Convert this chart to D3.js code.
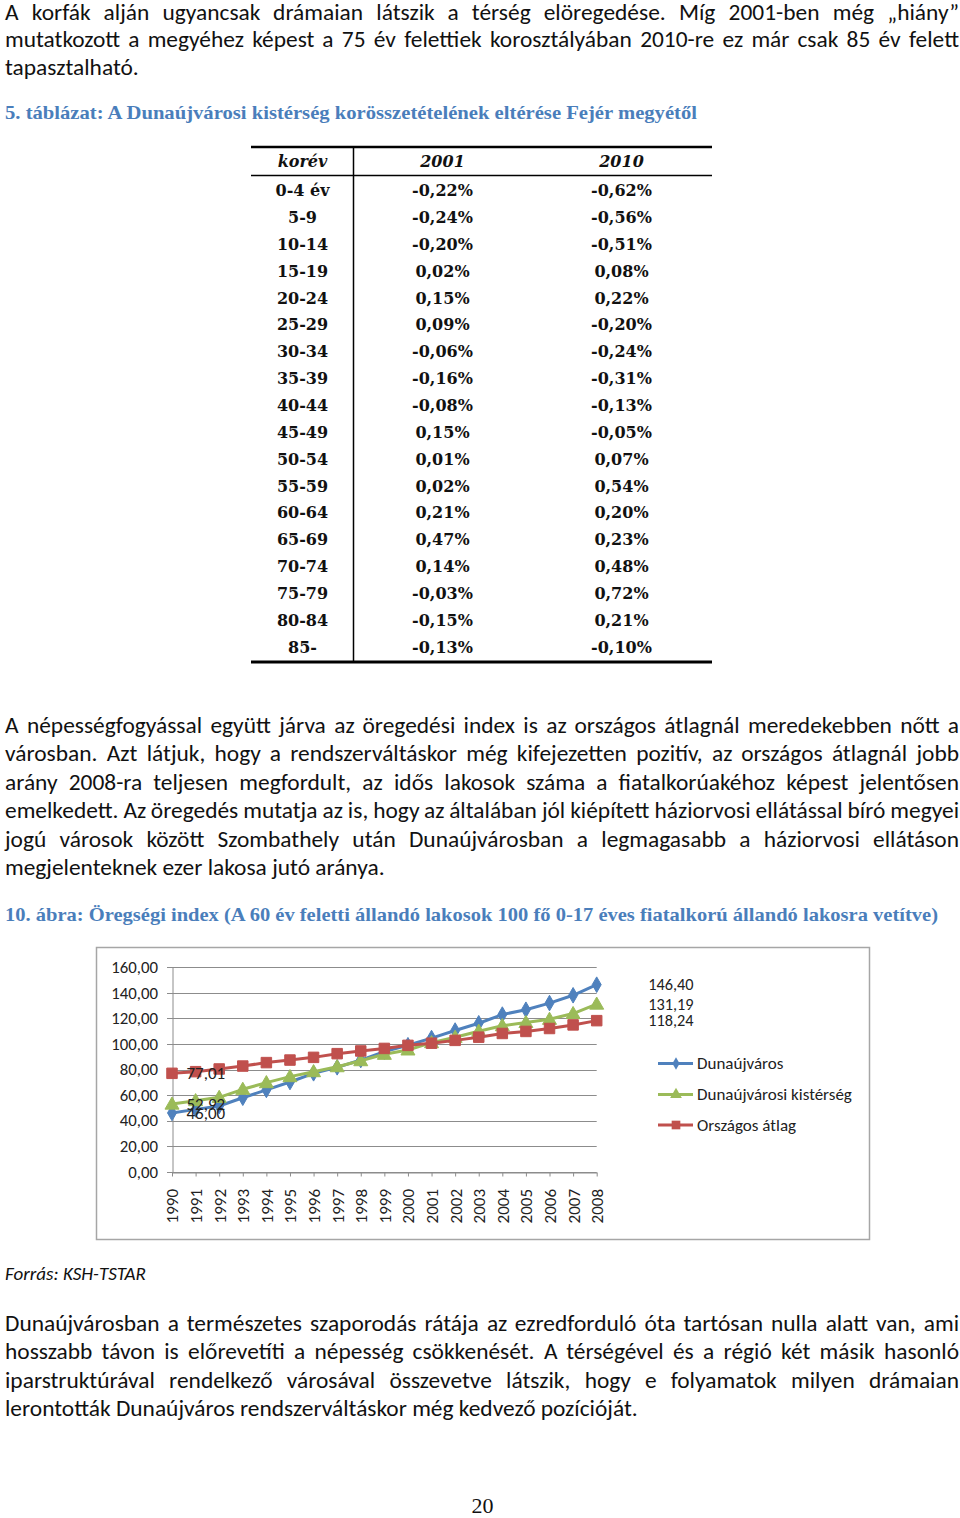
<!DOCTYPE html>
<html><head><meta charset="utf-8">
<script src="https://cdn.jsdelivr.net/npm/d3@7"></script>
<style>
html,body{margin:0;padding:0;background:#fff;}
svg{display:block;}
</style></head><body>
<svg id="page" width="960" height="1518"></svg>
<script>
// ---------- DATA ----------
const years = [1990,1991,1992,1993,1994,1995,1996,1997,1998,1999,2000,2001,2002,2003,2004,2005,2006,2007,2008];
const dunaujvaros = [46.00,48.8,51.4,57.9,64.0,70.2,77.0,81.7,87.4,94.0,99.0,104.6,110.5,116.2,123.0,126.8,132.0,138.1,146.40];
const kisterseg   = [52.92,55.6,58.2,64.5,69.7,74.4,78.3,82.2,86.9,91.9,95.3,101.0,105.2,110.0,114.3,116.8,119.3,123.8,131.19];
const orszagos    = [77.01,78.3,80.4,82.7,85.4,87.4,89.5,92.4,94.5,96.5,98.9,100.6,102.8,105.3,108.2,109.8,112.1,114.9,118.24];
const seriesNames = ["Dunaújváros","Dunaújvárosi kistérség","Országos átlag"];
const yTicks = [0,20,40,60,80,100,120,140,160];

const tableAges = ["0-4 év","5-9","10-14","15-19","20-24","25-29","30-34","35-39","40-44","45-49","50-54","55-59","60-64","65-69","70-74","75-79","80-84","85-"];
const table2001 = ["-0,22%","-0,24%","-0,20%","0,02%","0,15%","0,09%","-0,06%","-0,16%","-0,08%","0,15%","0,01%","0,02%","0,21%","0,47%","0,14%","-0,03%","-0,15%","-0,13%"];
const table2010 = ["-0,62%","-0,56%","-0,51%","0,08%","0,22%","-0,20%","-0,24%","-0,31%","-0,13%","-0,05%","0,07%","0,54%","0,20%","0,23%","0,48%","0,72%","0,21%","-0,10%"];
const tableHeader = ["korév","2001","2010"];

const para1 = [
 "A korfák alján ugyancsak drámaian látszik a térség elöregedése. Míg 2001-ben még „hiány”",
 "mutatkozott a megyéhez képest a 75 év felettiek korosztályában 2010-re ez már csak 85 év felett",
 "tapasztalható."];
const caption1 = "5. táblázat: A Dunaújvárosi kistérség korösszetételének eltérése Fejér megyétől";
const para2 = [
 "A népességfogyással együtt járva az öregedési index is az országos átlagnál meredekebben nőtt a",
 "városban. Azt látjuk, hogy a rendszerváltáskor még kifejezetten pozitív, az országos átlagnál jobb",
 "arány 2008-ra teljesen megfordult, az idős lakosok száma a fiatalkorúakéhoz képest jelentősen",
 "emelkedett. Az öregedés mutatja az is, hogy az általában jól kiépített háziorvosi ellátással bíró megyei",
 "jogú városok között Szombathely után Dunaújvárosban a legmagasabb a háziorvosi ellátáson",
 "megjelenteknek ezer lakosa jutó aránya."];
const caption2 = "10. ábra: Öregségi index (A 60 év feletti állandó lakosok 100 fő 0-17 éves fiatalkorú állandó lakosra vetítve)";
const source = "Forrás: KSH-TSTAR";
const para3 = [
 "Dunaújvárosban a természetes szaporodás rátája az ezredforduló óta tartósan nulla alatt van, ami",
 "hosszabb távon is előrevetíti a népesség csökkenését. A térségével és a régió két másik hasonló",
 "iparstruktúrával rendelkező városával összevetve látszik, hogy e folyamatok milyen drámaian",
 "lerontották Dunaújváros rendszerváltáskor még kedvező pozícióját."];
const pageNumber = "20";

// ---------- HELPERS ----------
const svg = d3.select("#page");
const BODY_FONT = "Carlito, Lato, 'Open Sans', sans-serif";
const ctx = document.createElement("canvas").getContext("2d");
function fitSize(text, family, target, style) {
  ctx.font = (style||"") + " 100px " + family;
  return 100 * target / ctx.measureText(text).width;
}
const bodySize = fitSize(para3[3], BODY_FONT, 633);

function textLine(text, x0, x1, y, justify, size) {
  const t = svg.append("text").attr("y", y)
    .style("font-family", BODY_FONT).style("font-size", size + "px").attr("fill", "#111");
  if (!justify) { t.attr("x", x0).text(text); return; }
  const words = text.split(" ");
  const spans = words.map(w => t.append("tspan").text(w));
  const widths = spans.map(s => s.node().getComputedTextLength());
  const total = d3.sum(widths);
  let gap = (x1 - x0 - total) / (words.length - 1);
  if (gap < 2) {
    t.selectAll("tspan").remove();
    t.attr("x", x0).text(text).attr("textLength", x1 - x0).attr("lengthAdjust", "spacingAndGlyphs");
    return;
  }
  let x = x0;
  spans.forEach((s, i) => { s.attr("x", x); x += widths[i] + gap; });
}
function paragraphAt(lines, ys) {
  lines.forEach((l, i) => textLine(l, 5, 959, ys[i], i < lines.length - 1, bodySize));
}
function caption(text, x0, x1, y) {
  svg.append("text").attr("x", x0).attr("y", y)
    .attr("textLength", x1 - x0).attr("lengthAdjust", "spacingAndGlyphs")
    .style("font-family", "'Liberation Serif', 'DejaVu Serif', serif")
    .style("font-weight", "bold").style("font-size", "19.5px")
    .attr("fill", "#4a7ebb").text(text);
}

// ---------- TEXT ----------
paragraphAt(para1, [20, 47, 75.3]);
caption(caption1, 5, 697, 119);
paragraphAt(para2, d3.range(6).map(i => 733 + i * 28.4));
caption(caption2, 5, 938, 921);
const srcSize = fitSize(source, BODY_FONT, 141, "italic");
svg.append("text").attr("x", 5).attr("y", 1280).style("font-family", BODY_FONT)
  .style("font-style", "italic").style("font-size", srcSize + "px").attr("fill", "#111").text(source);
paragraphAt(para3, d3.range(4).map(i => 1331 + i * 28.4));
svg.append("text").attr("x", 482.5).attr("y", 1513).attr("text-anchor", "middle")
  .style("font-family", "'Liberation Serif', serif").style("font-size", "22px").attr("fill", "#111").text(pageNumber);

// ---------- TABLE ----------
const tbl = svg.append("g");
const rowY = d3.scalePoint().domain(tableAges).range([190.3, 646.8]);
const colX = [302.5, 442.5, 621.5];
const TFONT = "'DejaVu Serif', serif";
tbl.append("line").attr("x1", 251).attr("x2", 712).attr("y1", 147).attr("y2", 147).attr("stroke", "#000").attr("stroke-width", 2.5);
tbl.append("line").attr("x1", 251).attr("x2", 712).attr("y1", 175.5).attr("y2", 175.5).attr("stroke", "#000").attr("stroke-width", 1.5);
tbl.append("line").attr("x1", 251).attr("x2", 712).attr("y1", 662).attr("y2", 662).attr("stroke", "#000").attr("stroke-width", 3);
tbl.append("line").attr("x1", 353.5).attr("x2", 353.5).attr("y1", 146).attr("y2", 662).attr("stroke", "#000").attr("stroke-width", 1.5);
tableHeader.forEach((h, i) => {
  tbl.append("text").attr("x", colX[i]).attr("y", 166.5).attr("text-anchor", "middle")
    .style("font-family", TFONT).style("font-weight", "bold").style("font-style", "italic")
    .style("font-size", "16px").attr("fill", "#111").text(h);
});
const cols = [tableAges, table2001, table2010];
cols.forEach((col, ci) => {
  tbl.selectAll(null).data(col).enter().append("text")
    .attr("x", colX[ci]).attr("y", (d, i) => rowY(tableAges[i]) + 5.9)
    .attr("text-anchor", "middle")
    .style("font-family", TFONT).style("font-weight", "bold").style("font-size", "16px")
    .attr("fill", "#111").text(d => d);
});

// ---------- CHART ----------
const chart = svg.append("g");
chart.append("rect").attr("x", 96.5).attr("y", 947.5).attr("width", 773).attr("height", 292)
  .attr("fill", "#fff").attr("stroke", "#a6a6a6").attr("stroke-width", 1.5);
const x = d3.scalePoint().domain(years).range([172, 596.7]);
const y = d3.scaleLinear().domain([0, 160]).range([1171.7, 967.3]);
const CFONT = "Carlito, Lato, sans-serif";
const fmt = v => d3.format(".2f")(v).replace(".", ",");

// gridlines
chart.append("g").selectAll("line").data(yTicks).enter().append("line")
  .attr("x1", 167).attr("x2", 596.7).attr("y1", d => Math.round(y(d)) + 0.5).attr("y2", d => Math.round(y(d)) + 0.5)
  .attr("stroke", "#8c8c8c").attr("stroke-width", 1);
// y axis
const yAxis = chart.append("g").attr("transform", "translate(172.5,0)")
  .call(d3.axisLeft(y).tickValues(yTicks).tickSize(0).tickPadding(14.5).tickFormat(fmt));
yAxis.select(".domain").attr("stroke", "#8c8c8c");
yAxis.selectAll("text").style("font-family", CFONT).style("font-size", "16.8px").attr("fill", "#222");
// x axis
const xAxis = chart.append("g").attr("transform", "translate(0," + (Math.round(y(0)) + 0.5) + ")")
  .call(d3.axisBottom(x).tickSize(4).tickSizeOuter(0));
xAxis.select(".domain").attr("stroke", "#8c8c8c");
xAxis.selectAll(".tick line").attr("stroke", "#8c8c8c");
xAxis.selectAll("text")
  .attr("transform", "translate(0,16.5) rotate(-90)")
  .attr("x", 0).attr("y", 0).attr("dy", "0.35em")
  .attr("text-anchor", "end")
  .style("font-family", CFONT).style("font-size", "17px").attr("fill", "#222");

const seriesData = [dunaujvaros, kisterseg, orszagos];
const colors = ["#4f81bd", "#9bbb59", "#c0504d"];
const symbols = [d3.symbolDiamond, d3.symbolTriangle, d3.symbolSquare];
const symSizes = [70, 85, 110];
const line = d3.line().x((d, i) => x(years[i])).y(d => y(d));

seriesData.forEach((s, k) => {
  const g = chart.append("g");
  g.append("path").datum(s).attr("d", line).attr("fill", "none")
    .attr("stroke", colors[k]).attr("stroke-width", 3).attr("stroke-linejoin", "round");
  g.selectAll("path.m").data(s).enter().append("path").attr("class", "m")
    .attr("d", d3.symbol().type(symbols[k]).size(symSizes[k]))
    .attr("transform", (d, i) => `translate(${x(years[i])},${y(d) + (k === 1 ? 1 : 0)})`)
    .attr("fill", colors[k]).attr("stroke", colors[k]).attr("stroke-width", 1);
});
// data labels
seriesData.forEach((s, k) => {
  const first = s[0], last = s[s.length - 1];
  chart.append("text").attr("x", x(years[0]) + 14.5).attr("y", y(first)).attr("dy", "0.35em")
    .style("font-family", CFONT).style("font-size", "17px").attr("fill", "#222").text(fmt(first));
  chart.append("text").attr("x", x(years[years.length - 1]) + 51.5).attr("y", y(last)).attr("dy", "0.35em")
    .style("font-family", CFONT).style("font-size", "16.3px").attr("fill", "#222").text(fmt(last));
});
// legend
const legY = [1063.5, 1094.5, 1125];
const lsym = [45, 60, 75];
seriesNames.forEach((n, k) => {
  const g = chart.append("g").attr("transform", `translate(0,${legY[k]})`);
  g.append("line").attr("x1", 658).attr("x2", 693).attr("stroke", colors[k]).attr("stroke-width", 3);
  g.append("path").attr("d", d3.symbol().type(symbols[k]).size(lsym[k])).attr("transform", "translate(676,0)").attr("fill", colors[k]);
  g.append("text").attr("x", 697).attr("dy", "0.35em").style("font-family", CFONT)
    .style("font-size", "17px").attr("fill", "#222").text(n);
});
</script>
</body></html>
